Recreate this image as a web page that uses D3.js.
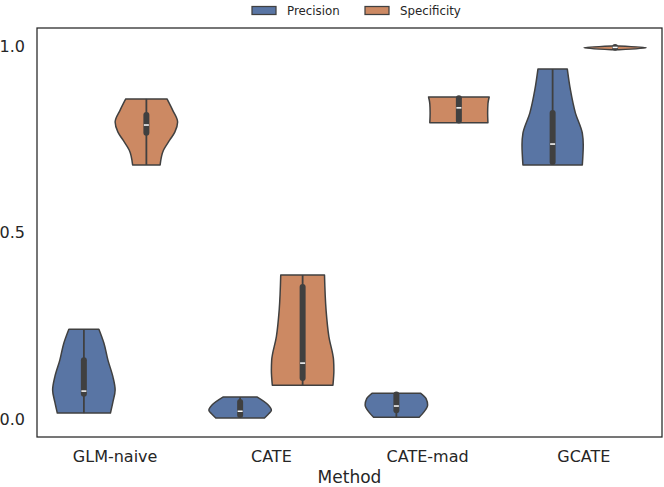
<!DOCTYPE html>
<html><head><meta charset="utf-8">
<script src="https://cdn.jsdelivr.net/npm/d3@7/dist/d3.min.js"></script>
<style>
html,body{margin:0;padding:0;background:#fff;}
svg{display:block;font-family:"DejaVu Sans",sans-serif;}
</style></head>
<body><svg id="chart" width="664" height="487"></svg>
<script>
// ---- data ----
const methods = ["GLM-naive", "CATE", "CATE-mad", "GCATE"];
const hues = ["Precision", "Specificity"];
const yTicks = [0.0, 0.5, 1.0];
const yTickLabels = ["0.0", "0.5", "1.0"];

// violin outlines: [value, relative half-width] per method
const precisionProfile = [
  [[0.241,0.48],[0.204,0.64],[0.158,0.77],[0.113,0.93],[0.078,1.0],[0.046,0.93],[0.016,0.85]],
  [[0.059,0.55],[0.038,0.90],[0.024,1.0],[0.013,0.90],[0.003,0.78]],
  [[0.069,0.78],[0.055,0.95],[0.038,1.0],[0.020,0.89],[0.005,0.73]],
  [[0.938,0.47],[0.882,0.57],[0.820,0.73],[0.766,0.95],[0.735,0.98],[0.681,0.95]]
];
const specificityProfile = [
  [[0.858,0.66],[0.828,0.84],[0.796,1.0],[0.769,0.91],[0.748,0.75],[0.721,0.55],[0.681,0.44]],
  [[0.386,0.70],[0.292,0.75],[0.221,0.84],[0.158,0.99],[0.131,1.0],[0.091,0.97]],
  [[0.863,0.97],[0.845,0.93],[0.820,0.92],[0.794,0.93]],
  [[1.000,0.12],[0.995,1.0],[0.990,0.12]]
];
// inner box: [min, q1, median, q3, max]
const precisionBox = [
  [0.016,0.068,0.075,0.158,0.241],
  [0.003,0.011,0.021,0.046,0.059],
  [0.005,0.024,0.035,0.066,0.069],
  [0.681,0.689,0.737,0.820,0.938]
];
const specificityBox = [
  [0.681,0.767,0.788,0.815,0.858],
  [0.091,0.110,0.150,0.354,0.386],
  [0.794,0.800,0.834,0.860,0.863],
  [0.990,0.995,0.996,0.997,1.000]
];
const hueColors = ["#5975a4", "#cc8963"];

// ---- layout ----
const svg = d3.select("#chart");
const L = 37, R = 662, T = 28, B = 437;
const textColor = "#262626";
const edge = "#404040";

const x = d3.scaleBand().domain(methods).range([L, R]).padding(0);
const bw = x.bandwidth();
const xh = d3.scaleBand().domain(hues).range([0.1 * bw, 0.9 * bw]);
const y = d3.scaleLinear().domain([-0.048, 1.048]).range([B, T]);
const halfMax = xh.bandwidth() / 2;

const profiles = [precisionProfile, specificityProfile];
const boxes = [precisionBox, specificityBox];

const g = svg.append("g");
hues.forEach((h, hi) => {
  methods.forEach((m, mi) => {
    const cx = x(m) + xh(h) + xh.bandwidth() / 2;
    const prof = profiles[hi][mi];
    const area = d3.area()
      .y(d => y(d[0]))
      .x0(d => cx - d[1] * halfMax)
      .x1(d => cx + d[1] * halfMax)
      .curve(d3.curveMonotoneY);
    g.append("path")
      .attr("d", area(prof))
      .attr("fill", hueColors[hi])
      .attr("stroke", edge)
      .attr("stroke-width", 1.5)
      .attr("stroke-linejoin", "round");
    const b = boxes[hi][mi];
    g.append("line")
      .attr("x1", cx).attr("x2", cx)
      .attr("y1", y(b[0])).attr("y2", y(b[4]))
      .attr("stroke", edge).attr("stroke-width", 1.8);
    g.append("line")
      .attr("x1", cx).attr("x2", cx)
      .attr("y1", y(b[1])).attr("y2", y(b[3]))
      .attr("stroke", edge).attr("stroke-width", 6)
      .attr("stroke-linecap", "round");
    g.append("line")
      .attr("x1", cx - 2.5).attr("x2", cx + 2.5)
      .attr("y1", y(b[2])).attr("y2", y(b[2]))
      .attr("stroke", "#ffffff").attr("stroke-width", 1.5);
  });
});

// frame
svg.append("rect")
  .attr("x", L).attr("y", T).attr("width", R - L).attr("height", B - T)
  .attr("fill", "none").attr("stroke", textColor).attr("stroke-width", 1.25);

// y ticks
svg.append("g").selectAll("text").data(yTicks).join("text")
  .attr("x", 25).attr("y", d => y(d))
  .attr("dy", "0.36em")
  .attr("text-anchor", "end")
  .attr("font-size", 16)
  .attr("fill", textColor)
  .text((d, i) => yTickLabels[i]);

// x ticks
svg.append("g").selectAll("text").data(methods).join("text")
  .attr("x", d => x(d) + bw / 2).attr("y", 462)
  .attr("text-anchor", "middle")
  .attr("font-size", 16)
  .attr("fill", textColor)
  .text(d => d);

svg.append("text")
  .attr("x", (L + R) / 2).attr("y", 482.5)
  .attr("text-anchor", "middle")
  .attr("font-size", 17)
  .attr("fill", textColor)
  .text("Method");

// legend
const legX = [252, 365];
const leg = svg.append("g");
hues.forEach((h, i) => {
  leg.append("rect")
    .attr("x", legX[i]).attr("y", 6.5).attr("width", 24).attr("height", 8)
    .attr("fill", hueColors[i]).attr("stroke", edge).attr("stroke-width", 1.25);
  leg.append("text")
    .attr("x", legX[i] + 35).attr("y", 15)
    .attr("font-size", 11.8)
    .attr("fill", textColor)
    .text(h);
});
</script>
</body></html>
